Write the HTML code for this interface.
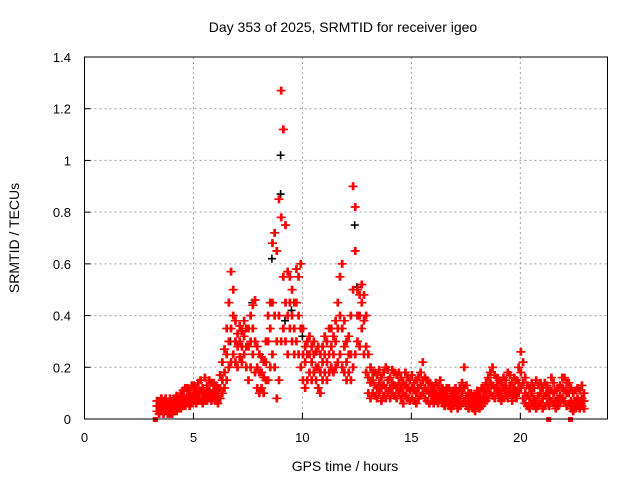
<!DOCTYPE html>
<html><head><meta charset="utf-8"><style>
body{margin:0;background:#fff;}
svg{display:block;font-family:"Liberation Sans",sans-serif;}
</style></head><body>
<svg id="chart" width="640" height="480" viewBox="0 0 640 480">
<rect width="640" height="480" fill="#fff"/>
<text x="343" y="32" font-size="14" text-anchor="middle">Day 353 of 2025, SRMTID for receiver igeo</text>
<text x="345" y="471" font-size="14" text-anchor="middle">GPS time / hours</text>
<text transform="translate(19,238) rotate(-90)" font-size="14" text-anchor="middle">SRMTID / TECUs</text>
<g id="grid"></g><g id="marks"></g><g id="axes"></g>
</svg>
<script>
const xTicks=[0,5,10,15,20];
const yTicks=[0,0.2,0.4,0.6,0.8,1,1.2,1.4];
const yTickLabels=["0","0.2","0.4","0.6","0.8","1","1.2","1.4"];
const times=[3.3,3.4,3.5,3.6,3.7,3.8,3.9,4.0,4.1,4.2,4.3,4.4,4.5,4.6,4.7,4.8,4.9,5.0,5.1,5.2,5.3,5.4,5.5,5.6,5.7,5.8,5.9,6.0,6.1,6.2,6.3,6.4,6.5,6.6,6.7,6.8,6.9,7.0,7.1,7.2,7.3,7.4,7.5,7.6,7.7,7.8,7.9,8.0,8.1,8.2,8.3,8.4,8.5,8.6,8.7,8.8,8.9,9.0,9.1,9.2,9.3,9.4,9.5,9.6,9.7,9.8,9.9,10.0,10.1,10.2,10.3,10.4,10.5,10.6,10.7,10.8,10.9,11.0,11.1,11.2,11.3,11.4,11.5,11.6,11.7,11.8,11.9,12.0,12.1,12.2,12.3,12.4,12.5,12.6,12.7,12.8,12.9,13.0,13.1,13.2,13.3,13.4,13.5,13.6,13.7,13.8,13.9,14.0,14.1,14.2,14.3,14.4,14.5,14.6,14.7,14.8,14.9,15.0,15.1,15.2,15.3,15.4,15.5,15.6,15.7,15.8,15.9,16.0,16.1,16.2,16.3,16.4,16.5,16.6,16.7,16.8,16.9,17.0,17.1,17.2,17.3,17.4,17.5,17.6,17.7,17.8,17.9,18.0,18.1,18.2,18.3,18.4,18.5,18.6,18.7,18.8,18.9,19.0,19.1,19.2,19.3,19.4,19.5,19.6,19.7,19.8,19.9,20.0,20.1,20.2,20.3,20.4,20.5,20.6,20.7,20.8,20.9,21.0,21.1,21.2,21.3,21.4,21.5,21.6,21.7,21.8,21.9,22.0,22.1,22.2,22.3,22.4,22.5,22.6,22.7,22.8,22.9];
const lowVals=[.03,.02,.03,.02,.03,.02,.02,.02,.03,.03,.04,.04,.05,.05,.06,.05,.06,.07,.06,.07,.07,.06,.07,.07,.08,.07,.08,.07,.06,.08,.10,.12,.15,.20,.22,.25,.22,.20,.24,.22,.25,.20,.15,.20,.25,.18,.12,.10,.12,.10,.15,.15,.20,.25,.20,.08,.15,.30,.35,.30,.25,.35,.30,.25,.30,.25,.20,.15,.12,.15,.18,.15,.18,.15,.12,.10,.15,.18,.15,.18,.20,.18,.20,.22,.25,.20,.18,.15,.18,.15,.20,.25,.30,.28,.35,.25,.18,.10,.08,.10,.09,.08,.10,.07,.09,.08,.10,.08,.10,.09,.08,.10,.08,.06,.09,.08,.07,.08,.07,.06,.08,.09,.10,.08,.07,.06,.07,.06,.07,.06,.08,.06,.05,.06,.05,.04,.05,.06,.04,.05,.06,.07,.05,.04,.05,.04,.03,.05,.04,.05,.06,.07,.08,.10,.09,.08,.10,.08,.07,.08,.09,.08,.10,.07,.09,.08,.10,.12,.08,.06,.05,.04,.06,.05,.04,.05,.06,.04,.05,.06,.05,.07,.06,.04,.05,.06,.08,.07,.05,.06,.04,.03,.04,.05,.04,.05,.04];
const midVals=[.05,.05,.06,.04,.05,.04,.05,.04,.05,.06,.06,.07,.08,.08,.09,.08,.09,.10,.09,.10,.11,.09,.10,.10,.11,.10,.11,.10,.09,.12,.15,.18,.25,.30,.35,.40,.30,.28,.30,.28,.32,.28,.28,.30,.35,.30,.20,.18,.18,.16,.22,.30,.35,.45,.40,.30,.40,.78,.55,.45,.40,.45,.40,.35,.45,.40,.35,.25,.22,.25,.25,.22,.25,.20,.20,.18,.22,.25,.22,.25,.28,.25,.30,.35,.40,.35,.28,.22,.25,.25,.50,.65,.40,.40,.45,.38,.28,.16,.14,.15,.13,.12,.14,.12,.13,.12,.15,.12,.14,.13,.12,.14,.12,.10,.13,.12,.11,.12,.11,.10,.12,.13,.15,.12,.11,.10,.10,.09,.10,.09,.11,.09,.08,.09,.08,.07,.08,.09,.07,.08,.10,.12,.09,.07,.07,.06,.06,.08,.07,.08,.09,.10,.12,.14,.13,.12,.13,.11,.10,.12,.12,.11,.13,.10,.12,.11,.14,.18,.14,.10,.09,.08,.10,.08,.07,.09,.10,.08,.09,.10,.08,.11,.10,.07,.08,.09,.12,.11,.10,.10,.07,.06,.07,.08,.07,.08,.07];
const highVals=[.07,.07,.08,.07,.08,.06,.08,.07,.08,.09,.08,.10,.11,.12,.12,.11,.13,.13,.12,.14,.15,.12,.16,.13,.15,.14,.14,.13,.12,.17,.22,.27,.35,.45,.57,.50,.38,.33,.36,.34,.38,.35,.35,.40,.44,.46,.28,.25,.24,.22,.30,.40,.45,.68,.72,.65,.85,1.27,1.12,.75,.57,.55,.50,.45,.58,.55,.60,.35,.28,.30,.32,.28,.30,.26,.28,.25,.28,.32,.30,.35,.35,.32,.38,.45,.55,.60,.38,.30,.32,.40,.90,.82,.50,.48,.52,.48,.40,.25,.20,.18,.18,.17,.19,.16,.18,.20,.19,.16,.19,.18,.17,.18,.16,.14,.18,.16,.15,.17,.14,.15,.16,.18,.22,.16,.15,.14,.13,.12,.14,.13,.15,.12,.11,.12,.12,.10,.11,.12,.10,.12,.14,.20,.13,.10,.10,.09,.09,.11,.10,.12,.12,.14,.16,.18,.20,.17,.16,.15,.14,.16,.15,.18,.17,.14,.16,.15,.20,.26,.22,.16,.13,.12,.14,.12,.15,.13,.14,.12,.14,.13,.11,.16,.14,.11,.12,.13,.16,.16,.14,.14,.12,.10,.11,.12,.11,.13,.10];
const blackTimes=[9.0,9.0,12.4,8.6,7.7,9.2,12.5,6.7,10.0,9.5];
const blackVals=[1.02,0.87,0.75,0.62,0.45,0.38,0.51,0.30,0.32,0.42];
const zeroTimes=[3.25,21.3,22.3];
const zeroVals=[0,0,0];

const X0=84.5,X1=607.5,Y0=419,Y1=57;
const xs=t=>X0+(t/24)*(X1-X0);
const ys=v=>Y0-(v/1.4)*(Y0-Y1);
const NS="http://www.w3.org/2000/svg";
function mk(tag,attrs,parent){const e=document.createElementNS(NS,tag);for(const k in attrs)e.setAttribute(k,attrs[k]);parent.appendChild(e);return e;}
const grid=document.getElementById('grid'),marks=document.getElementById('marks'),axes=document.getElementById('axes');
xTicks.forEach(t=>{
  if(t>0){const g=mk('line',{x1:xs(t),x2:xs(t),y1:Y0,y2:Y1,stroke:'#a0a0a0','stroke-dasharray':'2,3'},grid);
  
  }
  const tk=mk('line',{x1:xs(t),x2:xs(t),y1:Y0,y2:Y0-6,stroke:'#000'},axes);
  
  
  const lb=mk('text',{x:xs(t),y:442,'font-size':13,'text-anchor':'middle'},axes);lb.textContent=String(t);
  
  
});
yTicks.forEach((v,i)=>{
  if(v>0&&v<1.4){const g=mk('line',{x1:X0,x2:X1,y1:ys(v),y2:ys(v),stroke:'#a0a0a0','stroke-dasharray':'2,3'},grid);
  
  }
  const tk=mk('line',{x1:X0,x2:X0+6,y1:ys(v),y2:ys(v),stroke:'#000'},axes);
  
  
  const lb=mk('text',{x:71,y:ys(v)+5,'font-size':13,'text-anchor':'end'},axes);lb.textContent=yTickLabels[i];
  
  
});
const frame=mk('rect',{x:X0,y:Y1,width:X1-X0,height:Y0-Y1,fill:'none',stroke:'#000'},axes);


function plus(t,v,c,name){
  const p=mk('path',{d:`M${xs(t)-4},${ys(v)}h8M${xs(t)},${ys(v)-4}v8`,stroke:c,'stroke-width':1.6,fill:'none'},marks);
  
  
}
blackTimes.forEach((t,i)=>plus(t,blackVals[i],'#000','black-point'));
times.forEach((t,i)=>{
  plus(t,lowVals[i],'#f00','srmtid-point');
  plus(t+0.05,lowVals[i],'#f00','srmtid-point');
  plus(t+0.05,midVals[i],'#f00','srmtid-point');
  plus(t,midVals[i],'#f00','srmtid-point');
  plus(t,highVals[i],'#f00','srmtid-point');
  plus(t+0.05,highVals[i],'#f00','srmtid-point');
});
zeroTimes.forEach((t,i)=>{
  const s=mk('rect',{x:xs(t)-2.5,y:ys(zeroVals[i])-2,width:5,height:5,fill:'#f00'},marks);
  
  
});
</script>
</body></html>
